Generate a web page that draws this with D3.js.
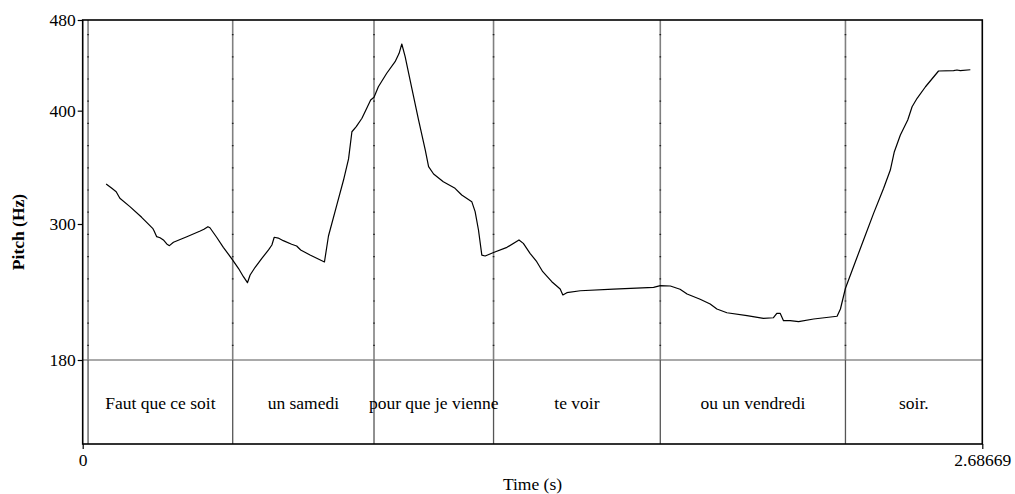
<!DOCTYPE html>
<html>
<head>
<meta charset="utf-8">
<script src="https://cdn.jsdelivr.net/npm/d3@7/dist/d3.min.js"></script>
<style>
  html, body { margin: 0; padding: 0; background: #fff; }
  svg { display: block; }
  text { font-family: "Liberation Serif", "Times New Roman", serif; fill: #000; }
</style>
</head>
<body>
<svg id="chart" width="1015" height="494"></svg>
<script>
// Pitch contour (time in s, F0 in Hz)
const pitchTime = [
  0.070, 0.087, 0.100, 0.111, 0.141, 0.176, 0.209, 0.213, 0.221, 0.231,
  0.241, 0.251, 0.259, 0.271, 0.311, 0.351, 0.362, 0.374, 0.380, 0.400,
  0.420, 0.435, 0.448, 0.465, 0.480, 0.492, 0.500, 0.515, 0.535, 0.555,
  0.565, 0.572, 0.584, 0.599, 0.624, 0.639, 0.651, 0.679, 0.722, 0.734,
  0.759, 0.779, 0.794, 0.804, 0.817, 0.834, 0.849, 0.860, 0.870, 0.883,
  0.908, 0.933, 0.945, 0.953, 0.963, 0.983, 1.003, 1.023, 1.033, 1.048,
  1.077, 1.112, 1.132, 1.162, 1.172, 1.182, 1.192, 1.202, 1.227, 1.267,
  1.303, 1.316, 1.336, 1.356, 1.374, 1.401, 1.426, 1.434, 1.446, 1.486,
  1.585, 1.705, 1.725, 1.755, 1.784, 1.805, 1.844, 1.874, 1.894, 1.924,
  1.984, 2.033, 2.063, 2.073, 2.083, 2.093, 2.113, 2.138, 2.183, 2.253,
  2.263, 2.278, 2.302, 2.332, 2.362, 2.392, 2.412, 2.424, 2.442, 2.464,
  2.477, 2.492, 2.517, 2.556, 2.601, 2.611, 2.621, 2.651
];
const pitchHz = [
  335.3, 331.5, 328.5, 322.7, 315.3, 305.9, 296.2, 294.1, 288.8, 287.9,
  285.9, 282.4, 280.9, 283.9, 288.8, 293.8, 295.3, 297.6, 296.7, 288.3,
  279.4, 273.5, 268.2, 260.9, 253.5, 248.2, 255.0, 261.8, 269.7, 277.1,
  281.5, 288.3, 287.6, 285.3, 282.1, 280.6, 277.1, 272.6, 266.5, 289.4,
  316.8, 338.8, 357.4, 381.4, 385.9, 393.3, 402.6, 409.4, 411.8, 421.1,
  433.0, 443.2, 450.6, 458.8, 447.6, 419.7, 391.8, 365.3, 350.6, 344.1,
  337.3, 331.5, 325.6, 319.7, 310.9, 294.7, 272.6, 271.8, 274.9, 279.4,
  285.9, 282.9, 274.1, 266.7, 257.9, 249.1, 242.6, 237.4, 239.4, 241.1,
  242.6, 244.1, 245.6, 245.3, 242.4, 238.2, 233.6, 229.4, 225.0, 221.7,
  219.1, 216.8, 217.3, 221.2, 221.2, 214.7, 214.7, 213.8, 216.2, 218.6,
  225.0, 243.3, 262.3, 285.9, 309.4, 331.5, 347.6, 363.8, 378.5, 391.8,
  403.5, 410.9, 421.1, 435.0, 435.3, 435.9, 435.3, 436.1
];

// Word tier: interval boundaries (s) and labels
const tierBoundaries = [0.016, 0.448, 0.870, 1.227, 1.725, 2.278];
const tierLabels = ["Faut que ce soit", "un samedi", "pour que je vienne", "te voir", "ou un vendredi", "soir."];

const totalDuration = 2.68669;
const pitchTicks = [180, 300, 400, 480];
const timeTicks = [0, 2.68669];
const timeTickLabels = ["0", "2.68669"];

const plotLeft = 82.7, plotRight = 982.3, plotTop = 20, pitchBottom = 360, plotBottom = 444;

const svg = d3.select("#chart");
const x = d3.scaleLinear().domain([0, totalDuration]).range([plotLeft, plotRight]);
const y = d3.scaleLinear().domain([180, 480]).range([pitchBottom, plotTop]);

// tier separator
svg.append("line")
  .attr("x1", plotLeft).attr("x2", plotRight)
  .attr("y1", y(180)).attr("y2", y(180))
  .attr("stroke", "#555").attr("stroke-width", 1);

// interval boundaries: grey with dark marks over the pitch area, plain through the tier
const bounds = svg.append("g");
tierBoundaries.forEach(b => {
  bounds.append("line")
    .attr("x1", x(b)).attr("x2", x(b)).attr("y1", plotTop).attr("y2", pitchBottom)
    .attr("stroke", "#808080").attr("stroke-width", 1.6);
  bounds.append("line")
    .attr("x1", x(b)).attr("x2", x(b)).attr("y1", plotTop + 14).attr("y2", pitchBottom)
    .attr("stroke", "#222").attr("stroke-width", 1.6)
    .attr("stroke-dasharray", "1.2,21");
  bounds.append("line")
    .attr("x1", x(b)).attr("x2", x(b)).attr("y1", pitchBottom).attr("y2", plotBottom)
    .attr("stroke", "#555").attr("stroke-width", 1.3);
});

// tier labels, centred in their intervals
svg.append("g").selectAll("text")
  .data(tierLabels)
  .join("text")
  .attr("x", (d, i) => x((tierBoundaries[i] + (i + 1 < tierBoundaries.length ? tierBoundaries[i + 1] : totalDuration)) / 2))
  .attr("y", 409)
  .attr("text-anchor", "middle")
  .attr("font-size", 17.5)
  .text(d => d);

// pitch contour
const pts = pitchTime.map((t, i) => [t, pitchHz[i]]);
svg.append("path")
  .datum(pts)
  .attr("fill", "none")
  .attr("stroke", "#000")
  .attr("stroke-width", 1.2)
  .attr("stroke-linejoin", "round")
  .attr("d", d3.line().x(d => x(d[0])).y(d => y(d[1])));

// frame
svg.append("rect")
  .attr("x", plotLeft).attr("y", plotTop)
  .attr("width", plotRight - plotLeft).attr("height", plotBottom - plotTop)
  .attr("fill", "none").attr("stroke", "#000").attr("stroke-width", 1.6);

// y axis
const yAxis = svg.append("g")
  .attr("transform", `translate(${plotLeft},0)`)
  .call(d3.axisLeft(y).tickValues(pitchTicks).tickSize(5).tickPadding(2).tickFormat(d3.format("d")));
yAxis.select(".domain").remove();
yAxis.selectAll(".tick line").attr("stroke", "#000").attr("stroke-width", 1.2);
yAxis.selectAll(".tick text")
  .attr("font-family", "Liberation Serif, serif").attr("font-size", 17.5).attr("fill", "#000");

// x axis
const xAxis = svg.append("g")
  .attr("transform", `translate(0,${plotBottom})`)
  .call(d3.axisBottom(x).tickValues(timeTicks).tickSize(5).tickPadding(5)
    .tickFormat((d, i) => timeTickLabels[i]));
xAxis.select(".domain").remove();
xAxis.selectAll(".tick line").attr("stroke", "#000").attr("stroke-width", 1.2);
xAxis.selectAll(".tick text")
  .attr("font-family", "Liberation Serif, serif").attr("font-size", 17.5).attr("fill", "#000");

// axis titles
svg.append("text")
  .attr("x", (plotLeft + plotRight) / 2).attr("y", 490)
  .attr("text-anchor", "middle").attr("font-size", 17.5)
  .text("Time (s)");

svg.append("text")
  .attr("transform", `translate(24,${(plotTop + plotBottom) / 2}) rotate(-90)`)
  .attr("text-anchor", "middle").attr("font-size", 17.5).attr("font-weight", "bold")
  .text("Pitch (Hz)");
</script>
</body>
</html>
